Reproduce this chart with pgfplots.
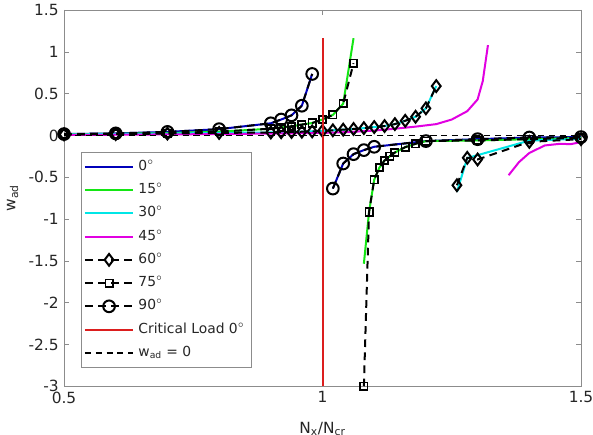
\documentclass[border=0pt]{standalone}
\usepackage{fontspec}
\setmainfont{DejaVu Sans}
\usepackage{pgfplots}
\pgfplotsset{compat=1.18}

\definecolor{cA}{RGB}{0,0,185}
\definecolor{cB}{RGB}{20,230,20}
\definecolor{cC}{RGB}{0,230,230}
\definecolor{cD}{RGB}{225,0,225}
\definecolor{cR}{RGB}{220,30,30}
\definecolor{axgray}{RGB}{140,140,140}

\begin{document}
\begin{tikzpicture}
\begin{axis}[
  width=335.8pt, height=244.4pt, scale only axis,
  xmin=0.5, xmax=1.5, ymin=-3, ymax=1.5,
  xtick={0.5,1,1.5}, xticklabels={0.5,1,1.5},
  ytick={-3,-2.5,-2,-1.5,-1,-0.5,0,0.5,1,1.5},
  yticklabels={-3,-2.5,-2,-1.5,-1,-0.5,0,0.5,1,1.5},
  tick align=inside, major tick length=3.3pt,
  axis line style={axgray}, tick style={axgray},
  tick label style={font=\fontsize{10}{12}\selectfont, text=black!85},
  xlabel={N\textsubscript{x}/N\textsubscript{cr}},
  ylabel={w\textsubscript{ad}},
  label style={font=\fontsize{10}{12}\selectfont, text=black!85},
  xlabel style={at={(rel axis cs:0.5,0)}, anchor=base, yshift=-30.5pt},
  ylabel style={at={(rel axis cs:0,0.5)}, anchor=center, yshift=33.4pt},
  clip mode=individual,
  unbounded coords=jump,
  legend cell align=left,
  legend style={at={(0.0335,0.623)}, anchor=north west, draw=axgray,
    font=\fontsize{9}{10}\selectfont, text=black!85,
    inner xsep=1.5pt, inner ysep=2pt,
    nodes={text height=7pt, text depth=2.5pt, inner ysep=2.8pt, inner xsep=2.8pt}},
  legend image code/.code={
    \draw[mark repeat=2, mark phase=2] plot coordinates {(0cm,0cm) (0.55cm,0cm) (1.1cm,0cm)};},
  every axis plot/.append style={line width=1.3pt},
]

% 0 deg
\addplot[cA, no marks] coordinates {
  (0.5,0.016) (0.6,0.024) (0.7,0.042) (0.8,0.075) (0.9,0.145) (0.92,0.19)
  (0.94,0.24) (0.96,0.355) (0.98,0.735) (1.0,nan)
  (1.02,-0.636) (1.04,-0.336) (1.06,-0.224) (1.08,-0.176) (1.1,-0.136)
  (1.2,-0.068) (1.3,-0.045) (1.4,-0.025) (1.5,-0.02)};
\addlegendentry{0$^{\circ}$}

% 15 deg
\addplot[cB, no marks] coordinates {
  (0.5,0.013) (0.6,0.019) (0.7,0.028) (0.8,0.045) (0.9,0.08) (0.92,0.095)
  (0.94,0.108) (0.96,0.13) (0.98,0.148) (1.0,0.19) (1.02,0.245) (1.04,0.38)
  (1.06,1.163) (1.07,nan)
  (1.08,-1.535) (1.09,-0.916) (1.1,-0.53) (1.11,-0.385) (1.12,-0.3) (1.13,-0.25)
  (1.14,-0.205) (1.16,-0.14) (1.18,-0.1) (1.2,-0.068) (1.3,-0.06) (1.4,-0.045)
  (1.5,-0.03)};
\addlegendentry{15$^{\circ}$}

% 30 deg
\addplot[cC, no marks] coordinates {
  (0.5,0.012) (0.6,0.016) (0.7,0.022) (0.8,0.03) (0.9,0.035) (0.92,0.038)
  (0.94,0.041) (0.96,0.044) (0.98,0.048) (1.0,0.054) (1.02,0.061) (1.04,0.069)
  (1.06,0.077) (1.08,0.087) (1.1,0.1) (1.12,0.112) (1.14,0.135) (1.16,0.175)
  (1.18,0.223) (1.2,0.324) (1.22,0.59) (1.24,nan)
  (1.26,-0.676) (1.28,-0.27) (1.3,-0.236) (1.4,-0.062) (1.5,-0.04)};
\addlegendentry{30$^{\circ}$}

% 45 deg
\addplot[cD, no marks] coordinates {
  (0.5,0.005) (0.6,0.008) (0.7,0.012) (0.8,0.016) (0.9,0.022) (1.0,0.03)
  (1.05,0.04) (1.1,0.058) (1.14,0.08) (1.18,0.105) (1.22,0.135) (1.25,0.19)
  (1.28,0.29) (1.3,0.43) (1.31,0.65) (1.32,1.08) (1.34,nan)
  (1.36,-0.476) (1.38,-0.32) (1.4,-0.21) (1.43,-0.12) (1.46,-0.1) (1.48,-0.105)
  (1.5,-0.08)};
\addlegendentry{45$^{\circ}$}

% 60 deg
\addplot[black, dash pattern=on 5pt off 3.5pt, mark=diamond,
  mark size=3.8pt, mark options={solid, line width=1.3pt}] coordinates {
  (0.5,0.012) (0.6,0.016) (0.7,0.022) (0.8,0.03) (0.9,0.035) (0.92,0.038)
  (0.94,0.041) (0.96,0.044) (0.98,0.048) (1.0,0.054) (1.02,0.061) (1.04,0.069)
  (1.06,0.077) (1.08,0.087) (1.1,0.1) (1.12,0.112) (1.14,0.135) (1.16,0.175)
  (1.18,0.223) (1.2,0.324) (1.22,0.59) (1.24,nan)
  (1.26,-0.596) (1.28,-0.268) (1.3,-0.288) (1.4,-0.077) (1.5,-0.045)};
\addlegendentry{60$^{\circ}$}

% 75 deg
\addplot[black, dash pattern=on 5pt off 3.5pt, mark=square,
  mark size=2.4pt, mark options={solid, line width=1.1pt}] coordinates {
  (0.5,0.013) (0.6,0.019) (0.7,0.028) (0.8,0.045) (0.9,0.08) (0.92,0.095)
  (0.94,0.108) (0.96,0.13) (0.98,0.148) (1.0,0.19) (1.02,0.245) (1.04,0.38)
  (1.06,0.863) (1.07,nan)
  (1.08,-3.0) (1.09,-0.916) (1.1,-0.53) (1.11,-0.385) (1.12,-0.3) (1.13,-0.25)
  (1.14,-0.205) (1.16,-0.14) (1.18,-0.1) (1.2,-0.068) (1.3,-0.06) (1.4,-0.045)
  (1.5,-0.03)};
\addlegendentry{75$^{\circ}$}

% 90 deg
\addplot[black, dash pattern=on 5pt off 3.5pt, mark=o,
  mark size=3.8pt, mark options={solid, line width=1.3pt}] coordinates {
  (0.5,0.016) (0.6,0.024) (0.7,0.042) (0.8,0.075) (0.9,0.145) (0.92,0.19)
  (0.94,0.24) (0.96,0.355) (0.98,0.735) (1.0,nan)
  (1.02,-0.636) (1.04,-0.336) (1.06,-0.224) (1.08,-0.176) (1.1,-0.136)
  (1.2,-0.068) (1.3,-0.045) (1.4,-0.025) (1.5,-0.02)};
\addlegendentry{90$^{\circ}$}

% critical load of the 0 deg case
\addplot[cR, no marks] coordinates {(1,-3) (1,1.17)};
\addlegendentry{Critical Load 0$^{\circ}$}

% zero deflection reference
\addplot[black, no marks, line width=0.9pt, dash pattern=on 4pt off 3pt]
  coordinates {(0.5,0) (1.5,0)};
\addlegendentry{w\textsubscript{ad} = 0}

\coordinate (bl) at (rel axis cs:0,0);
\coordinate (tr) at (rel axis cs:1,1);
\end{axis}
\pgfresetboundingbox
\path[use as bounding box] ([shift={(-41.6pt,-31.2pt)}]bl) rectangle ([shift={(7.8pt,6.5pt)}]tr);
\end{tikzpicture}
\end{document}
